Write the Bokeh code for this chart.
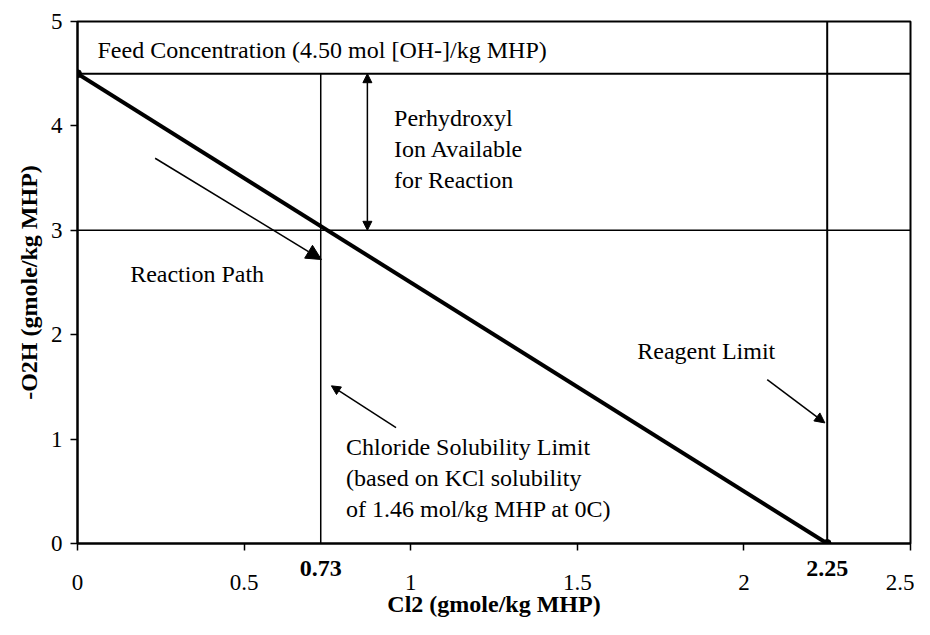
from bokeh.plotting import figure
from bokeh.models import (ColumnDataSource, Arrow, NormalHead, FixedTicker,
                          Range1d, LinearAxis)
from bokeh.core.properties import value
from bokeh.embed import file_html
from bokeh.resources import INLINE

# ---- data ----
feed_conc = 4.50            # mol [OH-]/kg MHP
chloride_limit = 0.73       # Cl2 at KCl solubility limit
reagent_limit = 2.25        # Cl2 where -O2H is used up
avail_level = 3.0           # -O2H at chloride limit
path_x = [0.0, 2.25]        # reaction path line
path_y = [4.50, 0.0]
x_ticks = [0, 0.5, 1, 1.5, 2, 2.5]
y_ticks = [0, 1, 2, 3, 4, 5]
special_x_values = [0.73, 2.25]   # bold labels under the axis

SERIF = "Liberation Serif"

p = figure(width=914, height=619, output_backend="svg", toolbar_location=None,
           x_range=Range1d(0, 2.5), y_range=Range1d(0, 5),
           min_border_left=77, min_border_right=4, min_border_top=21,
           min_border_bottom=74)
p.xgrid.visible = False
p.ygrid.visible = False
p.outline_line_color = "black"
p.outline_line_width = 2
p.background_fill_color = "white"
p.border_fill_color = "white"

# y axis
ya = p.yaxis[0]
ya.ticker = FixedTicker(ticks=y_ticks, minor_ticks=[])
ya.axis_line_color = "black"
ya.axis_line_width = 2
ya.major_tick_line_color = "black"
ya.major_tick_line_width = 1.5
ya.major_tick_in = 0
ya.major_tick_out = 7
ya.minor_tick_line_color = None
ya.major_label_text_font = SERIF
ya.major_label_text_font_size = "23px"
ya.major_label_text_color = "black"
ya.major_label_standoff = 8
ya.axis_label = "-O2H (gmole/kg MHP)"
ya.axis_label_text_font = SERIF
ya.axis_label_text_font_size = "24px"
ya.axis_label_text_font_style = "bold"
ya.axis_label_text_color = "black"
ya.axis_label_standoff = 6

# x axis next to the frame: tick marks at x_ticks, bold labels at the limits
xa = p.xaxis[0]
xa.ticker = FixedTicker(ticks=special_x_values, minor_ticks=x_ticks)
xa.axis_line_color = "black"
xa.axis_line_width = 2
xa.major_tick_line_color = None
xa.major_tick_in = 0
xa.major_tick_out = 0
xa.minor_tick_line_color = "black"
xa.minor_tick_line_width = 1.5
xa.minor_tick_in = 0
xa.minor_tick_out = 7
xa.major_label_text_font = SERIF
xa.major_label_text_font_size = "24px"
xa.major_label_text_font_style = "bold"
xa.major_label_text_color = "black"
xa.major_label_standoff = 10

# second x axis below: the regular tick labels and the title
xb = LinearAxis(ticker=FixedTicker(ticks=x_ticks, minor_ticks=[]))
xb.axis_line_color = None
xb.major_tick_line_color = None
xb.minor_tick_line_color = None
xb.major_tick_in = 0
xb.major_tick_out = 0
xb.major_label_text_font = SERIF
xb.major_label_text_font_size = "23px"
xb.major_label_text_color = "black"
xb.major_label_standoff = -4
xb.axis_label = "Cl2 (gmole/kg MHP)"
xb.axis_label_text_font = SERIF
xb.axis_label_text_font_size = "24px"
xb.axis_label_text_font_style = "bold"
xb.axis_label_text_color = "black"
xb.axis_label_standoff = -2
p.add_layout(xb, "below")

# ---- limit lines ----
p.line(x=[0, 2.5], y=[feed_conc, feed_conc], line_color="black", line_width=2)
p.line(x=[0, 2.5], y=[avail_level, avail_level], line_color="black", line_width=1.5)
p.line(x=[chloride_limit, chloride_limit], y=[0, feed_conc], line_color="black", line_width=1.5)
p.line(x=[reagent_limit, reagent_limit], y=[0, 5], line_color="black", line_width=2)

# ---- reaction path ----
p.line(x=path_x, y=path_y, line_color="black", line_width=4)
p.scatter(x=path_x, y=path_y, size=8, color="black")

# ---- arrows ----
p.add_layout(Arrow(x_start=0.87, y_start=avail_level, x_end=0.87, y_end=feed_conc,
                   line_color="black", line_width=1.5,
                   start=NormalHead(size=9, fill_color="black", line_color="black"),
                   end=NormalHead(size=9, fill_color="black", line_color="black")))
p.add_layout(Arrow(x_start=0.233, y_start=3.69, x_end=0.732, y_end=2.72,
                   line_color="black", line_width=1.5,
                   end=NormalHead(size=15, fill_color="black", line_color="black")))
p.add_layout(Arrow(x_start=2.07, y_start=1.57, x_end=2.243, y_end=1.155,
                   line_color="black", line_width=1.5,
                   end=NormalHead(size=10, fill_color="black", line_color="black")))
p.add_layout(Arrow(x_start=0.956, y_start=1.11, x_end=0.762, y_end=1.51,
                   line_color="black", line_width=1.5,
                   end=NormalHead(size=9, fill_color="black", line_color="black")))

# ---- annotation texts ----
notes = ColumnDataSource(dict(
    x=[0.06, 0.95, 0.158, 1.68, 0.806],
    y=[4.73, 3.78, 2.58, 1.84, 0.625],
    text=["Feed Concentration (4.50 mol [OH-]/kg MHP)",
          "Perhydroxyl\nIon Available\nfor Reaction",
          "Reaction Path",
          "Reagent Limit",
          "Chloride Solubility Limit\n(based on KCl solubility\nof 1.46 mol/kg MHP at 0C)"],
))
p.text(x="x", y="y", text="text", source=notes, text_font=value(SERIF),
       text_font_size="24px", text_color="black", text_align="left",
       text_baseline="middle", text_line_height=1.2)

open("out.html", "w").write(file_html(p, INLINE))
